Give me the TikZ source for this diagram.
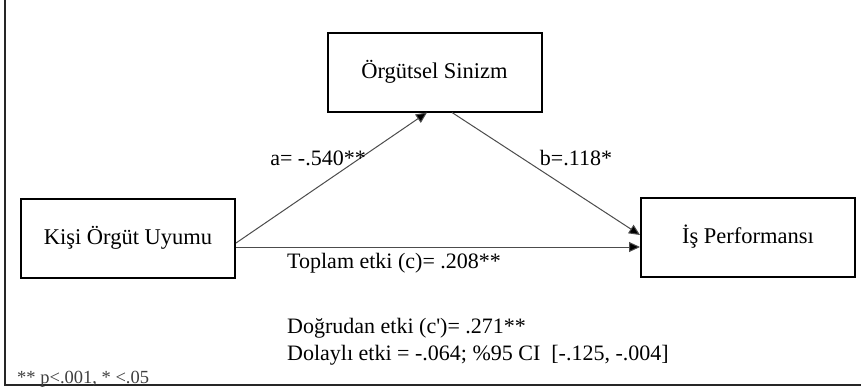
\documentclass[tikz,border=0pt]{standalone}
\usepackage{fontspec}
\setmainfont{Liberation Serif}
\usetikzlibrary{arrows.meta,calc}
\begin{document}
\begin{tikzpicture}[x=1pt,y=-1pt,
  box/.style={draw=black,line width=2pt,minimum width=214pt,minimum height=79pt,inner sep=0pt,font=\fontsize{22.5}{26}\selectfont},
  lbl/.style={inner sep=0pt,font=\fontsize{22}{26}\selectfont},
  conn/.style={draw=black!70,line width=1pt,-{Triangle[length=11pt,width=10pt,fill=black]}}]
\useasboundingbox (0,0) rectangle (861,389);
\fill[white] (0,0) rectangle (861,389);
% frame
\coordinate (ftl) at (5,0);
\coordinate (fbl) at (5,385);
\coordinate (fbr) at (861,385);
\draw[black!85,line width=1.3pt] (ftl) -- (fbl) -- (fbr);
% boxes
\node[box] (med) at (434.5,72) {Örgütsel Sinizm};
\node[box] (iv) at (128,238) {Kişi Örgüt Uyumu};
\node[box] (dv) at (748,237) {İş Performansı};
% connectors
\draw[conn] ([yshift=-5pt]iv.east) -- ([xshift=-7.5pt]med.south);
\draw[conn] ([xshift=17.5pt]med.south) -- ([yshift=2pt]dv.west);
\draw[conn] ([yshift=-9pt]iv.east) -- ([yshift=-10pt]dv.west);
% labels
\node[lbl,anchor=base] (la) at (318,165) {a= -.540**};
\node[lbl,anchor=base] (lb) at (576,165) {b=.118*};
\node[lbl,anchor=base west] (lc) at (287,268) {Toplam etki (c)= .208**};
\node[lbl,anchor=base west] (ld) at (287,333) {Doğrudan etki (c\textquotesingle)= .271**};
\node[lbl,anchor=base west] (le) at (287,360) {Dolaylı etki = -.064; \%95 CI\ \ [-.125, -.004]};
\node[inner sep=0pt,anchor=base west,font=\fontsize{18.5}{22}\selectfont,text=black!75] (fn) at (17,383) {** p<.001, * <.05};
\end{tikzpicture}
\end{document}
